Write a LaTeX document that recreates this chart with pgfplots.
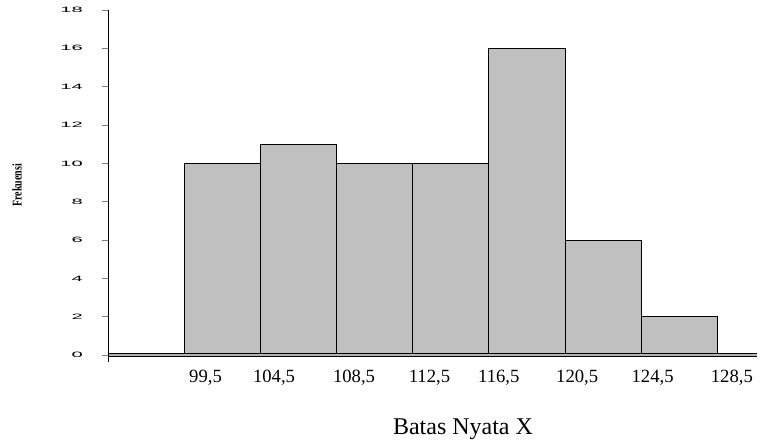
\documentclass[border=0pt]{standalone}
\usepackage{pgfplots}
\pgfplotsset{compat=1.18}
\usepackage{fontspec}
\setmainfont{Liberation Serif}
\newfontfamily\arialfont{Liberation Sans}
\definecolor{bargray}{HTML}{C0C0C0}
\begin{document}
\begin{tikzpicture}[x=0.75pt,y=0.75pt]
\begin{axis}[
  at={(81pt,60.2pt)}, anchor=south west,
  scale only axis,
  width=486.75pt, height=263.8pt,
  xmin=-1, xmax=7.52, ymin=-0.35, ymax=18,
  axis on top,
  axis y line*=left,
  axis x line*=middle,
  x axis line style={-, line width=0.85pt, double=gray!60, double distance=2pt},
  y axis line style={-, line width=0.6pt},
  ytick={0,2,...,18},
  yticklabel style={font=\arialfont\fontsize{5.8}{6}\selectfont, xscale=2.6, anchor=east, xshift=-2pt},
  ytick style={line width=0.6pt},
  tick align=outside,
  major tick length=4.5pt,
  xtick={0.28,1.18,2.23,3.22,4.13,5.16,6.15,7.19},
  xticklabels={{99,5},{104,5},{108,5},{112,5},{116,5},{120,5},{124,5},{128,5}},
  x tick style={draw=none},
  xticklabel style={font=\fontsize{14}{16}\selectfont, yshift=-3pt},
  /pgf/number format/assume math mode=true,
  xlabel={Batas Nyata X},
  xlabel style={font=\fontsize{18}{20}\selectfont, at={(axis description cs:0.547,-0.192)}, anchor=center},
  ylabel={\fontsize{10}{11}\selectfont\bfseries\scalebox{0.75}[1]{Frekuensi}},
  ylabel style={at={(axis description cs:-0.14,0.502)}, anchor=center},
  clip=false,
]
\addplot[ybar, bar width=1, fill=bargray, draw=black, line width=0.7pt] coordinates {
  (0.5,10) (1.5,11) (2.5,10) (3.5,10) (4.5,16) (5.5,6) (6.5,2)
};
\end{axis}
\pgfresetboundingbox
\path[use as bounding box] (0,0) rectangle (585.75pt,331.5pt);
\end{tikzpicture}
\end{document}
